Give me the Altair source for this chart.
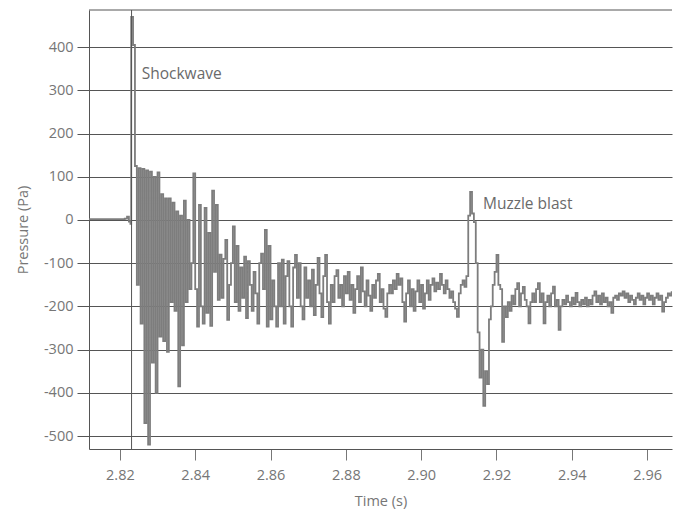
import altair as alt
import pandas as pd

# ---- data ----
# quiet part before the shock (explicit times)
pre_time = [2.8118, 2.8205, 2.8213, 2.8219, 2.8224, 2.8228]
pre_pressure = [2, 2, 3, 8, -4, -9]

# sampled record from the shock onward (sample clock)
t0 = 2.8230
dt = 0.0005
pressure = [
    470, 405, 125, -150, 120, -240, 118, -470, 115, -520,
    112, -330, 100, -400, 110, -270, 60, -280, 50, -305,
    50, -190, 40, -210, 20, -385, 10, -290, 45, -190,
    0, -160, -100, 108, -160, -247, 35, -200, -240, 28,
    -215, -30, -245, 68, -120, 35, -185, -80, -180, -90,
    -46, -231, -150, -100, -15, -190, -60, -210, -110, -180,
    -85, -227, -95, -150, -210, -120, -170, -240, -100, -78,
    -160, -23, -247, -60, -230, -140, -200, -247, -100, -200,
    -92, -240, -130, -95, -200, -247, -110, -81, -180, -100,
    -200, -230, -110, -180, -140, -200, -115, -220, -150, -88,
    -170, -225, -130, -81, -190, -240, -150, -190, -130, -116,
    -180, -150, -200, -130, -170, -120, -185, -150, -215, -160,
    -130, -190, -110, -165, -200, -140, -175, -210, -150, -180,
    -140, -125, -190, -160, -205, -224, -170, -150, -170, -140,
    -160, -125, -150, -135, -190, -235, -170, -140, -200, -160,
    -210, -165, -140, -190, -150, -205, -170, -140, -185, -150,
    -135, -165, -145, -160, -125, -150, -170, -140, -160, -180,
    -165, -190, -205, -224, -170, -150, -140, -155, -130, 10,
    65, 15, -5, -100, -260, -365, -300, -430, -350, -380,
    -230, -200, -150, -120, -81, -150, -160, -282, -200, -225,
    -190, -210, -175, -195, -160, -146, -200, -170, -155, -185,
    -200, -239, -190, -170, -190, -160, -146, -190, -170, -239,
    -190, -175, -200, -170, -154, -200, -185, -254, -200, -185,
    -195, -175, -190, -200, -180, -195, -169, -190, -200, -185,
    -195, -180, -200, -185, -195, -175, -165, -190, -175, -195,
    -170, -190, -180, -200, -190, -215, -180, -175, -185, -170,
    -175, -165, -180, -170, -190, -175, -185, -195, -180, -170,
    -185, -175, -195, -180, -170, -185, -175, -195, -180, -170,
    -185, -175, -212, -190, -180, -170, -175, -165,
]

shock_time = [2.8231]
ann_text = ["Shockwave", "Muzzle blast"]
ann_time = [2.8258, 2.9164]
ann_pressure = [338, 37]

y_ticks = [-500, -400, -300, -200, -100, 0, 100, 200, 300, 400]
x_ticks = [2.82, 2.84, 2.86, 2.88, 2.90, 2.92, 2.94, 2.96]
x_domain = [2.8118, 2.9666]
y_domain = [-530, 486]

# ---- tables ----
times = pre_time + [t0 + i * dt for i in range(len(pressure))]
values = pre_pressure + pressure
sig = pd.DataFrame({"t": times, "p": values})
ann = pd.DataFrame({"text": ann_text, "t": ann_time, "p": ann_pressure})
shock = pd.DataFrame({"t": shock_time})

W, H = 583, 439
FONT = "Open Sans"
TXT = "#767676"
GRID = "#555555"

xs = alt.Scale(domain=x_domain, nice=False, zero=False)
ys = alt.Scale(domain=y_domain, nice=False, zero=False)

x_axis = alt.Axis(values=x_ticks, format=".2f", title="Time (s)", grid=False,
                  tickSize=11, labelPadding=8, titlePadding=13,
                  domainColor=GRID, tickColor="#777777")
y_axis = alt.Axis(values=y_ticks, labelExpr="'' + datum.value", title="Pressure (Pa)",
                  grid=True, gridColor=GRID, gridWidth=1, gridOpacity=1,
                  tickSize=12, labelPadding=4, titlePadding=13,
                  domainColor=GRID, tickColor=GRID)

line = alt.Chart(sig).mark_line(color="#7d7d7d", strokeWidth=1.8, clip=True,
                                interpolate="step-after").encode(
    x=alt.X("t:Q", scale=xs, axis=x_axis),
    y=alt.Y("p:Q", scale=ys, axis=y_axis),
)

shock_rule = alt.Chart(shock).mark_rule(color="#555555", strokeWidth=1).encode(
    x=alt.X("t:Q", scale=xs),
    y=alt.value(0),
    y2=alt.value(H),
)

top_rule = alt.Chart(shock).mark_rule(color=GRID, strokeWidth=1).encode(
    x=alt.value(0), x2=alt.value(W), y=alt.value(0)
)

labels = alt.Chart(ann).mark_text(align="left", baseline="middle", font=FONT,
                                  fontSize=15.5, color="#6a6a6a").encode(
    x=alt.X("t:Q", scale=xs),
    y=alt.Y("p:Q", scale=ys),
    text="text:N",
)

chart = alt.layer(line, shock_rule, top_rule, labels).properties(
    width=W, height=H,
    autosize=alt.AutoSizeParams(type="none"),
    padding={"left": 81, "top": 2, "right": 1, "bottom": 66},
).configure_view(stroke=None).configure_axis(
    labelFont=FONT, titleFont=FONT, labelFontSize=14.5, titleFontSize=14.5,
    labelColor=TXT, titleColor=TXT, labelFontWeight="normal", titleFontWeight="normal",
)

chart.save("out.html", embed_options={"renderer": "svg", "actions": False})
